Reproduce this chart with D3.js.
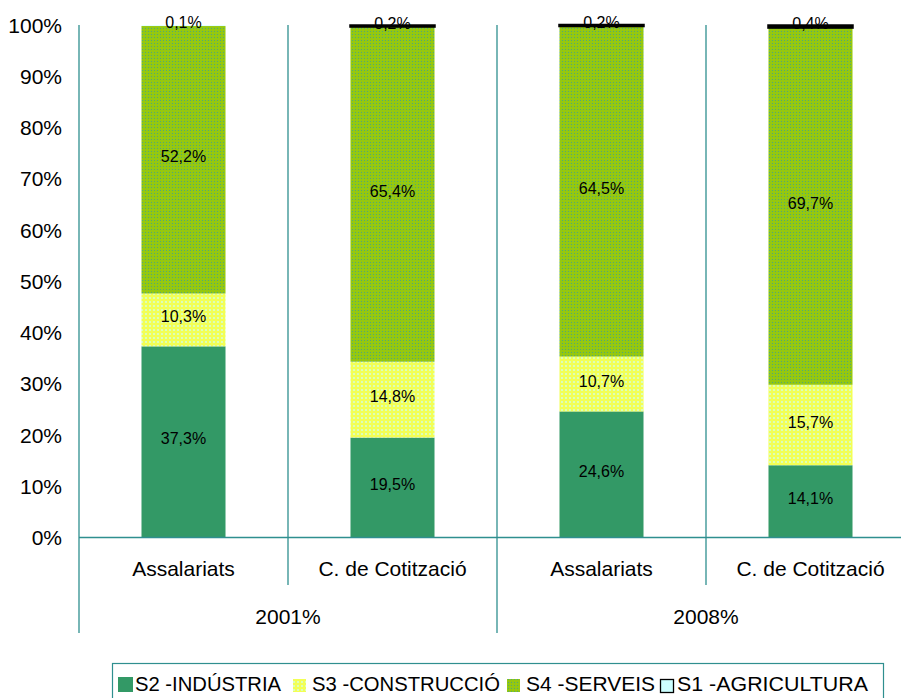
<!DOCTYPE html>
<html><head><meta charset="utf-8">
<script src="https://cdn.jsdelivr.net/npm/d3@7"></script>
<style>body{margin:0;background:#fff}svg{display:block;font-family:"Liberation Sans",Arial,sans-serif}</style>
</head><body><svg id="c" width="901" height="698"></svg>
<script>
const categories = ["Assalariats","C. de Cotització","Assalariats","C. de Cotització"];
const groups = ["2001%","2008%"];
const seriesNames = ["S2 -INDÚSTRIA","S3 -CONSTRUCCIÓ","S4 -SERVEIS","S1 -AGRICULTURA"];
const s2 = [37.3,19.5,24.6,14.1];
const s3 = [10.3,14.8,10.7,15.7];
const s4 = [52.2,65.4,64.5,69.7];
const s1 = [0.1,0.2,0.2,0.4];
const yTicks = [0,10,20,30,40,50,60,70,80,90,100];

const svg = d3.select("#c");
const axisColor = "#2f8f8f";
const defs = svg.append("defs");
// patterns
const p4 = defs.append("pattern").attr("id","p4").attr("width",3).attr("height",3).attr("patternUnits","userSpaceOnUse");
p4.append("rect").attr("width",3).attr("height",3).attr("fill","#95c80f");
p4.append("rect").attr("x",1).attr("y",1).attr("width",1).attr("height",1).attr("fill","#4fa87a");
const p3 = defs.append("pattern").attr("id","p3").attr("width",4).attr("height",4).attr("patternUnits","userSpaceOnUse");
p3.append("rect").attr("width",4).attr("height",4).attr("fill","#f2ff55");
p3.append("rect").attr("x",1).attr("y",1).attr("width",2).attr("height",2).attr("fill","#dcffb8");

const fills = ["#339966","url(#p3)","url(#p4)","#ccffff"];
const seriesVals = [s2,s3,s4,s1];

const x = d3.scaleBand().domain(d3.range(categories.length)).range([79,915]).padding(0);
const xg = d3.scaleBand().domain(d3.range(groups.length)).range([79,915]);
const y = d3.scaleLinear().domain([0,100]).range([537.5,25]);

// y axis labels
svg.append("g").selectAll("text").data(yTicks).join("text")
  .attr("x",62).attr("y",d=>y(d)).attr("text-anchor","end").attr("dominant-baseline","central")
  .attr("font-size",21).attr("fill","#000").text(d=>d+"%");

// stacks
const stackData = categories.map((c,i)=>{ const o={i}; seriesNames.forEach((s,k)=>o[k]=seriesVals[k][i]); return o;});
const stack = d3.stack().keys(d3.range(seriesNames.length))(stackData);
const bw = x.bandwidth()*0.402;
const gBars = svg.append("g");
stack.forEach((layer,k)=>{
  gBars.selectAll(null).data(layer).join("rect")
    .attr("x",(d,i)=>x(i)+x.bandwidth()/2-bw/2)
    .attr("width",bw)
    .attr("y",d=>y(d[1]))
    .attr("height",d=>y(d[0])-y(d[1]))
    .attr("fill",fills[k])
    .attr("stroke",d=> (k===3 && (y(d[0])-y(d[1]))>=1) ? "#000" : "none")
    .attr("stroke-width",2.5);
});
// labels
stack.forEach((layer,k)=>{
  svg.append("g").selectAll("text").data(layer).join("text")
    .attr("x",(d,i)=>x(i)+x.bandwidth()/2)
    .attr("y",d=>y((d[0]+d[1])/2)-3)
    .attr("text-anchor","middle").attr("dominant-baseline","central")
    .attr("font-size",16).attr("fill","#000")
    .text(d=>d3.format(".1f")(d[1]-d[0]).replace(".",",")+"%");
});

// axes lines
const ga = svg.append("g").attr("stroke",axisColor).attr("stroke-width",1.3);
ga.append("line").attr("x1",79).attr("x2",901).attr("y1",y(0)).attr("y2",y(0));
// vertical separators
d3.range(categories.length+1).forEach(i=>{
  const xx = i<categories.length ? x(i) : 915;
  const long = i%2===0;
  ga.append("line").attr("x1",xx).attr("x2",xx).attr("y1",25).attr("y2",long?633:585);
});

// category labels
svg.append("g").selectAll("text").data(categories).join("text")
  .attr("x",(d,i)=>x(i)+x.bandwidth()/2).attr("y",576).attr("text-anchor","middle")
  .attr("font-size",21).attr("fill","#000").text(d=>d);
svg.append("g").selectAll("text").data(groups).join("text")
  .attr("x",(d,i)=>xg(i)+xg.bandwidth()/2).attr("y",624).attr("text-anchor","middle")
  .attr("font-size",21).attr("fill","#000").text(d=>d);

// legend
const lg = svg.append("g");
lg.append("rect").attr("x",112.5).attr("y",663.5).attr("width",771).attr("height",50)
  .attr("fill","#fff").attr("stroke",axisColor).attr("stroke-width",1.2);
const legSquareX = [118,293,507,660];
const legTextX = [135,312,526,677];
const legTextW = [146,188,129,191];
const legSq = [15,13,13,13];
seriesNames.forEach((s,k)=>{
  lg.append("rect").attr("x",legSquareX[k]+(k===3?0.5:0)).attr("y",692-legSq[k]+(k===3?0.5:0))
    .attr("width",legSq[k]).attr("height",legSq[k]).attr("fill",fills[k])
    .attr("stroke",k===3?"#000":"none").attr("stroke-width",1.3);
  lg.append("text").attr("x",legTextX[k]).attr("y",691).attr("font-size",20).attr("fill","#000")
    .attr("textLength",legTextW[k]).attr("lengthAdjust","spacingAndGlyphs").text(s);
});
</script></body></html>
